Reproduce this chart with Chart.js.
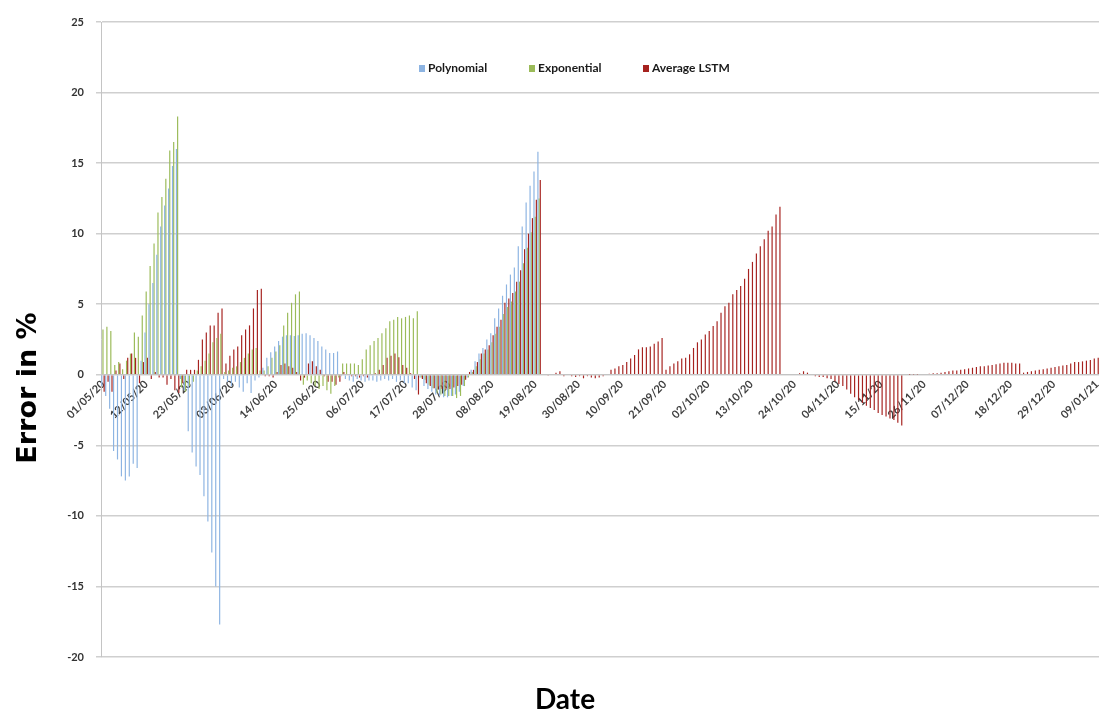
<!DOCTYPE html>
<html>
<head>
<meta charset="utf-8">
<title>Error in %</title>
<script src="https://cdn.jsdelivr.net/npm/chart.js@4"></script>
<style>
  html, body { margin: 0; padding: 0; background: #fff; }
  #wrap { position: relative; width: 1099px; height: 715px; }
  #legend { position: absolute; top: 60px; left: 0; width: 1099px; height: 20px;
            font: bold 12px Lato, sans-serif; color: #1a1a1a; }
  #legend .item { position: absolute; white-space: nowrap; line-height: 16px; }
  #legend .box { display: inline-block; width: 6px; height: 7px; margin-right: 3px; }
  #xTitle { position: absolute; left: 465px; top: 681px; width: 200px; text-align: center;
            font: bold 28px Lato, sans-serif; color: #000; }
  #yTitle { position: absolute; left: -73px; top: 371px; width: 200px; text-align: center;
            transform: rotate(-90deg); font: bold 27px "DejaVu Sans", sans-serif; color: #000;
            line-height: 34px; }
</style>
</head>
<body>
<div id="wrap">
  <canvas id="errChart" width="1099" height="715"></canvas>
  <div id="legend"></div>
  <div id="xTitle">Date</div>
  <div id="yTitle">Error in %</div>
</div>
<script>
// daily forecast error, starting 01/05/20
const startDate = new Date(2020, 4, 1);
const dayCount = 254;
const labelEvery = 11;

const seriesNames = ["Polynomial", "Exponential", "Average LSTM"];
const seriesColors = ["#8db4e2", "#9bbb59", "#a6221f"];

const polynomial = [
  -0.8, -1.5, -2.4, -5.4, -6.0, -7.2, -7.5, -7.2, -6.3, -6.6,
  1.0, 3.0, 5.0, 6.5, 8.5, 10.5, 12.0, 13.2, 14.8, 16.0,
  -0.3, -1.1, -4.0, -5.5, -6.5, -7.1, -8.6, -10.4, -12.6, -15.0, -17.7,
  -0.3, -0.5, -0.8, -0.5, -0.9, -1.2, -0.6, -1.3, -0.4, -0.2,
  0.5, 1.2, 1.6, 2.0, 2.4, 2.7, 2.8, 2.8, 2.75, 2.8,
  2.9, 2.95, 2.8, 2.6, 2.4, 2.0, 1.8, 1.55, 1.55, 1.65,
  -0.1, -0.3, -0.4, -0.5, -0.3, -0.4, -0.5, -0.4, -0.4, -0.5,
  -0.4, -0.3, -0.4, -0.3, -0.5, -0.4, -0.6, -0.6, -0.9, -1.1,
  -0.2, -0.8, -1.0, -1.2, -1.4, -1.5, -1.6, -1.6, -1.5, -1.4, -1.2, -0.8, -0.2,
  0.35, 0.95, 1.5, 1.9, 2.5, 2.95, 4.0, 4.7, 5.6, 6.4,
  7.1, 7.6, 9.1, 10.5, 12.2, 13.4, 14.4, 15.8
];

const exponential = [
  3.2, 3.4, 3.1, 0.7, 0.9, 0.4, 1.0, 1.5, 3.0, 2.7,
  4.2, 5.9, 7.7, 9.3, 11.5, 12.6, 13.9, 15.9, 16.5, 18.3,
  -0.9, -1.2, -0.8, -0.5, 0.3, 0.6, 1.0, 1.5, 2.3, 2.6, 2.9,
  0.2, 0.3, 0.5, 0.6, 0.9, 1.2, 1.5, 1.8, 1.9, 0.3,
  0.3, 0.6, 1.2, 1.65, 2.1, 3.5, 4.4, 5.1, 5.7, 5.9,
  -0.7, -0.4, -0.6, -0.8, -1.0, -0.8, -1.1, -1.35, -0.8, -0.2,
  0.8, 0.8, 0.8, 0.8, 0.7, 1.1, 1.8, 2.1, 2.4, 2.6,
  2.95, 3.3, 3.8, 3.9, 4.1, 4.0, 4.1, 4.2, 4.0, 4.5,
  -0.2, -0.35, -0.7, -0.95, -1.3, -1.4, -1.5, -1.5, -1.5, -1.65, -1.5, -0.8, -0.2,
  0.2, 0.6, 1.1, 1.5, 1.8, 2.3, 2.9, 3.4, 4.3, 4.8,
  5.2, 5.9, 6.6, 7.9, 9.0, 10.1, 11.2, 12.5
];

const averageLstm = [
  -1.2, -0.5, -1.2, 0.3, 0.8, -0.3, 1.2, 1.5, 1.2, -0.6,
  0.9, 1.2, -0.3, 0.2, -0.2, -0.2, -0.7, -0.3, -1.1, -1.3,
  -0.6, 0.35, 0.35, 0.35, 1.06, 2.5, 3.0, 3.5, 3.5, 4.4, 4.7,
  0.8, 1.35, 1.8, 2.0, 2.8, 3.2, 3.5, 4.7, 6.0, 6.1,
  -0.1, -0.1, -0.2, 0.2, 0.7, 0.8, 0.6, 0.5, 0.2, -0.4,
  -0.2, 0.8, 0.95, 0.6, 0.35, -0.1, -0.5, -0.5, -0.7, -0.5,
  0.2, 0.0, -0.1, -0.1, -0.2, -0.1, -0.2, 0.0, 0.1, 0.35,
  0.7, 1.2, 1.35, 1.5, 1.25, 0.7, 0.5, 0.1, -0.3, -1.4,
  -0.3, -0.6, -0.8, -0.95, -1.05, -1.0, -1.05, -1.0, -0.9, -0.8, -0.7, -0.35, 0.2,
  0.35, 0.9, 1.5, 1.8, 2.1, 2.8, 3.4, 3.9, 5.1, 5.4,
  5.8, 6.6, 7.4, 8.9, 10.0, 11.1, 12.4, 13.8,
  -0.05, -0.07, 0.05, 0.15, 0.25, -0.1, 0.0, -0.1, -0.15, -0.1,
  -0.25, -0.1, -0.2, -0.25, -0.2, -0.1, 0.0,
  0.35, 0.45, 0.6, 0.7, 0.9, 1.15, 1.4, 1.8, 1.95, 1.95, 2.0, 2.2, 2.35, 2.6,
  0.35, 0.6, 0.8, 0.95, 1.15, 1.2, 1.45, 1.9, 2.3, 2.5,
  2.85, 3.1, 3.45, 3.8, 4.4, 4.85, 5.1, 5.7, 6.0, 6.3,
  6.8, 7.5, 8.0, 8.6, 9.1, 9.6, 10.2, 10.5, 11.35, 11.9,
  0.0, -0.05, 0.0, 0.05, 0.1, 0.25, 0.15, -0.05, -0.1, -0.15,
  -0.15, -0.25, -0.3, -0.45, -0.65,
  -0.8, -1.05, -1.35, -1.6, -1.8, -2.0, -2.2, -2.35, -2.5, -2.7,
  -2.85, -2.95, -3.1, -3.2, -3.4, -3.6,
  0.0, 0.02, 0.03, 0.03, 0.05, 0.06, 0.08, 0.1,
  0.1, 0.15, 0.2, 0.25, 0.3, 0.3, 0.35, 0.4, 0.45, 0.5,
  0.55, 0.6, 0.6, 0.65, 0.7, 0.75, 0.8, 0.85, 0.85, 0.85, 0.8, 0.8,
  0.15, 0.2, 0.25, 0.3, 0.35, 0.4, 0.45, 0.5, 0.55, 0.6,
  0.65, 0.7, 0.8, 0.9, 0.9, 0.95, 1.0, 1.05, 1.15, 1.2
];

const yTicks = { min: -20, max: 25, step: 5 };

function pad2(n) { return String(n).padStart(2, "0"); }

const dates = [];
for (let i = 0; i < dayCount; i++) {
  const d = new Date(startDate.getFullYear(), startDate.getMonth(), startDate.getDate() + i);
  dates.push(pad2(d.getDate()) + "/" + pad2(d.getMonth() + 1) + "/" + pad2(d.getFullYear() % 100));
}

const values = [polynomial, exponential, averageLstm];
const datasets = seriesNames.map((name, k) => ({
  label: name,
  data: values[k],
  backgroundColor: seriesColors[k],
  borderWidth: 0,
  categoryPercentage: 0.9,
  barPercentage: 1.0
}));

// legend sits inside the plot area, so it is built as plain html
const legendPos = [419, 529, 643];
const legend = document.getElementById("legend");
seriesNames.forEach((name, k) => {
  const item = document.createElement("span");
  item.className = "item";
  item.style.left = legendPos[k] + "px";
  item.innerHTML = '<span class="box" style="background:' + seriesColors[k] + '"></span>' + name;
  legend.appendChild(item);
});

new Chart(document.getElementById("errChart"), {
  type: "bar",
  data: { labels: dates, datasets: datasets },
  options: {
    responsive: false,
    animation: false,
    layout: { padding: { top: 22, bottom: 58, left: 0, right: 0 } },
    plugins: { legend: { display: false }, tooltip: { enabled: false } },
    scales: {
      x: {
        position: { y: 0 },
        grid: { display: false, drawTicks: false },
        border: { display: true, color: "#c4c4c4" },
        ticks: {
          autoSkip: false,
          minRotation: 45,
          maxRotation: 45,
          padding: 3,
          color: "#404040",
          font: { family: "Lato", weight: "bold", size: 11 },
          callback: function (v, i) {
            return i % labelEvery === 0 ? this.getLabelForValue(v) : null;
          }
        },
        // let the last category run to the canvas edge
        afterFit: function (scale) { scale.paddingRight = 0; }
      },
      y: {
        min: yTicks.min,
        max: yTicks.max,
        ticks: {
          stepSize: yTicks.step,
          padding: 12,
          color: "#333",
          font: { family: "Lato", weight: "bold", size: 11 }
        },
        grid: { color: "#cfcfcf", lineWidth: 1.5, tickLength: 5 },
        border: { display: true, color: "#c4c4c4" },
        afterFit: function (scale) { scale.width = 101; }
      }
    }
  }
});
</script>
</body>
</html>
